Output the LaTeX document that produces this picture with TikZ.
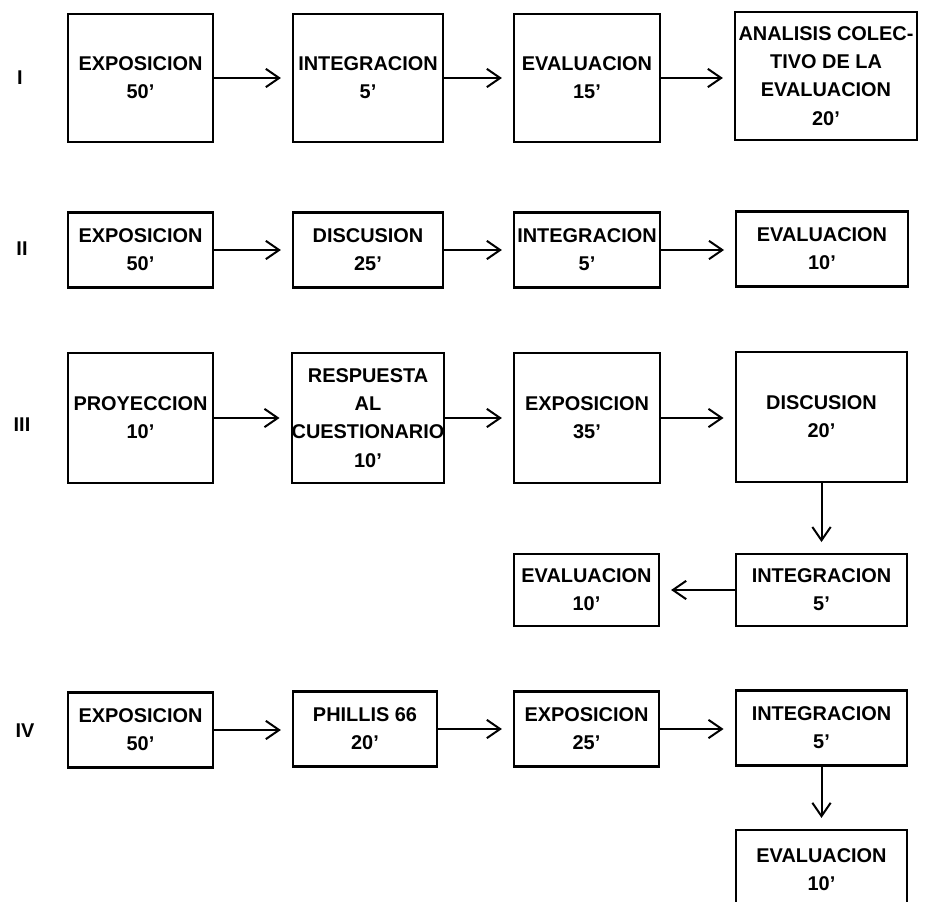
\documentclass[tikz,border=0pt]{standalone}
\usepackage{fontspec}
\setmainfont{Liberation Sans}
\usetikzlibrary{arrows.meta,positioning}

\begin{document}
\begin{tikzpicture}[
  x=0.03cm, y=-0.03cm,
  font=\fontsize{17}{24}\selectfont\bfseries,
  box/.style={rectangle, draw=black, line width=1.9pt, align=center, inner sep=0pt},
  wa/.style={box, minimum width=4.35cm},
  wb/.style={box, minimum width=4.5cm},
  wc/.style={box, minimum width=4.38cm},
  wd/.style={box, minimum width=5.15cm},
  tall/.style={minimum height=3.9cm},
  low/.style={minimum height=2.25cm},
  arrow/.style={-{Straight Barb[length=4mm,width=5.5mm]}, line width=1.7pt, shorten >=3.3mm},
  rowlabel/.style={font=\fontsize{17}{20}\selectfont\bfseries}
]
\useasboundingbox (0,0) rectangle (928,902);

% row labels
\node[rowlabel] (lblI)   at (20,78)  {I};
\node[rowlabel] (lblII)  at (22,249) {II};
\node[rowlabel] (lblIII) at (22,425) {III};
\node[rowlabel] (lblIV)  at (25,731) {IV};

% I
\node[wa, tall, minimum height=3.84cm] (expI) at (140.5,78) {EXPOSICION\\50'};
\node[wb, tall, minimum height=3.84cm] (intI) at (368,78) {INTEGRACION\\5'};
\node[wc, tall, minimum height=3.84cm] (evaI) at (587,78) {EVALUACION\\15'};
\node[box, minimum width=5.46cm, minimum height=3.84cm] (anaI) at (826,76) {ANALISIS COLEC-\\TIVO DE LA\\EVALUACION\\20'};

% II
\node[wa, low] (expII) at (140.5,250) {EXPOSICION\\50'};
\node[wb, low] (disII) at (368,250) {DISCUSION\\25'};
\node[wc, low] (intII) at (587,250) {INTEGRACION\\5'};
\node[wd, low] (evaII) at (822,249) {EVALUACION\\10'};

% III
\node[wa, tall] (proIII) at (140.5,418) {PROYECCION\\10'};
\node[wb, tall] (resIII) at (368,418) {RESPUESTA\\AL\\CUESTIONARIO\\10'};
\node[wc, tall] (expIII) at (587,418) {EXPOSICION\\35'};
\node[wd, tall] (disIII) at (821.5,417) {DISCUSION\\20'};
\node[wd, minimum height=2.15cm] (intIII) at (821.5,590) {INTEGRACION\\5'};
\node[wa, minimum height=2.15cm] (evaIII) at (586.5,590) {EVALUACION\\10'};

% IV
\node[wa, low] (expIV) at (140.5,730) {EXPOSICION\\50'};
\node[box, minimum width=4.32cm, minimum height=2.25cm] (phiIV) at (365,729) {PHILLIS 66\\20'};
\node[wa, low] (exptIV) at (586.5,729) {EXPOSICION\\25'};
\node[wd, low] (intIV) at (821.5,728) {INTEGRACION\\5'};
\node[wd, minimum height=2.4cm] (evaIV) at (821.5,870) {EVALUACION\\10'};

\draw[arrow] (expI) -- (intI);
\draw[arrow] (intI) -- (evaI);
\draw[arrow] (evaI) -- (evaI -| anaI.west);

\draw[arrow] (expII) -- (disII);
\draw[arrow] (disII) -- (intII);
\draw[arrow] (intII) -- (intII -| evaII.west);

\draw[arrow] (proIII) -- (resIII);
\draw[arrow] (resIII) -- (expIII);
\draw[arrow] (expIII) -- (expIII -| disIII.west);
\draw[arrow] (disIII) -- (intIII);
\draw[arrow] (intIII) -- (evaIII);

\draw[arrow] (expIV) -- (expIV -| phiIV.west);
\draw[arrow] (phiIV) -- (exptIV);
\draw[arrow] (exptIV) -- (exptIV -| intIV.west);
\draw[arrow] (intIV) -- (evaIV);
\end{tikzpicture}
\end{document}
